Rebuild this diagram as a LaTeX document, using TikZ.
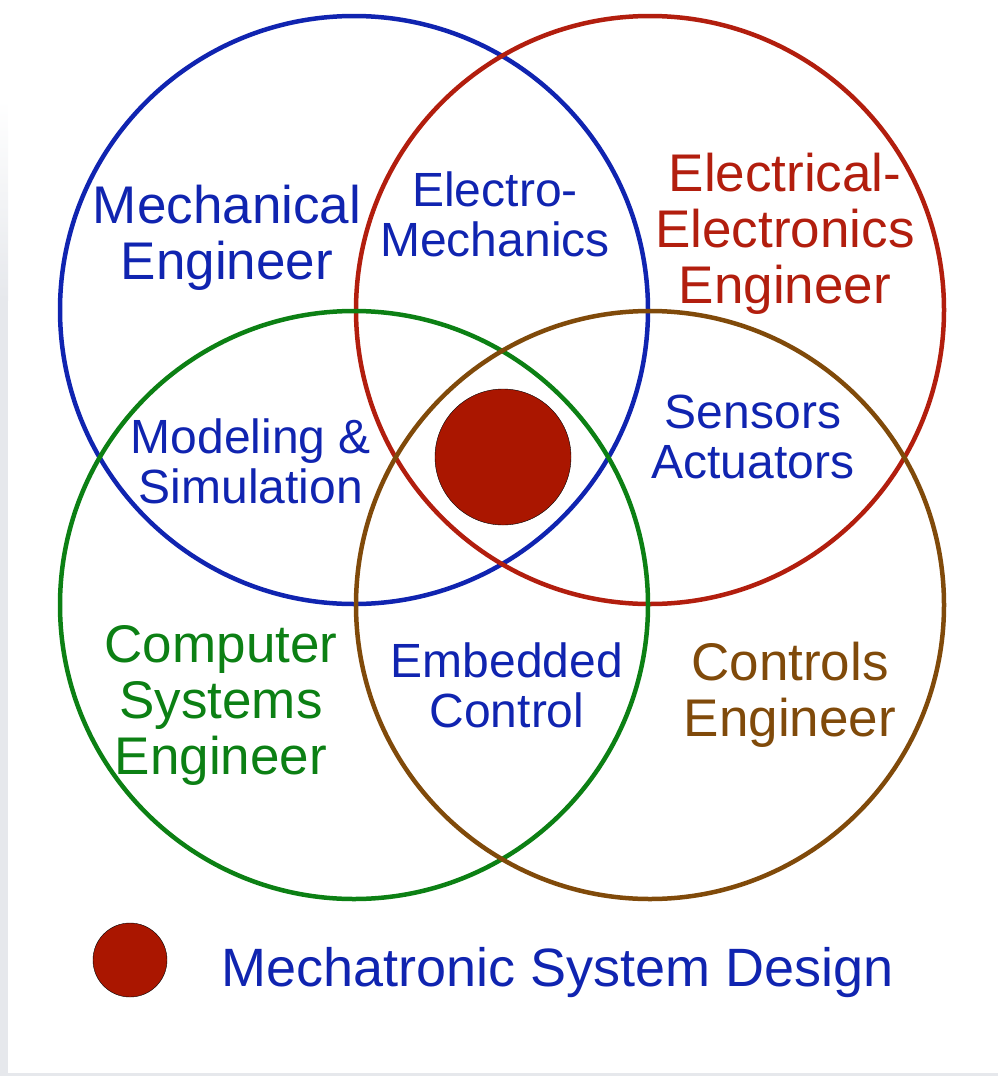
\documentclass[tikz,border=0pt]{standalone}
\usepackage{fontspec}
\setmainfont{Liberation Sans}

\definecolor{mechblue}{RGB}{16,36,176}
\definecolor{elecred}{RGB}{178,30,14}
\definecolor{compgreen}{RGB}{12,128,20}
\definecolor{ctrlbrown}{RGB}{128,74,10}
\definecolor{dotred}{RGB}{170,22,0}
\definecolor{edgegray}{RGB}{230,232,236}

\begin{document}
\begin{tikzpicture}[x=1pt,y=-1pt]
    \tikzstyle{ring} = [circle, draw, line width=4.5pt,
        minimum size=588pt, inner sep=0pt]
    \tikzstyle{field} = [align=center, font=\fontsize{53}{56}\selectfont]
    \tikzstyle{overlap} = [align=center, text=mechblue,
        font=\fontsize{48}{50}\selectfont]
    \tikzstyle{dot} = [circle, draw=black, thin, fill=dotred, inner sep=0pt]

    \useasboundingbox (0,0) rectangle (998,1076);
    % page edge
    \shade [top color=white, bottom color=edgegray] (0,100) rectangle (8,300);
    \fill [edgegray] (0,300) rectangle (8,1076);
    \fill [edgegray] (8,1073) rectangle (998,1076);
    %
    \node [ring, draw=mechblue] (Mech) at (354,310) {};
    \node [ring, draw=elecred, right of=Mech, node distance=296pt] (Elec) {};
    \node [ring, draw=compgreen, below of=Mech, node distance=295pt] (Comp) {};
    \node [ring, draw=ctrlbrown, right of=Comp, node distance=296pt] (Ctrl) {};
    %
    \node [field, text=mechblue] (mechlbl) at (227,238) {Mechanical\\Engineer};
    \node [field, text=elecred] (eleclbl) at (785,234) {Electrical-\\Electronics\\Engineer};
    \node [field, text=compgreen] (complbl) at (221,705) {Computer\\Systems\\Engineer};
    \node [field, text=ctrlbrown] (ctrllbl) at (790,695) {Controls\\Engineer};
    %
    \node [overlap] (emlbl) at (495,214) {Electro-\\Mechanics};
    \node [overlap] (simlbl) at (251,461) {Modeling \&\\Simulation};
    \node [overlap] (senslbl) at (753,437) {Sensors\\Actuators};
    \node [overlap] (emblbl) at (507,685) {Embedded\\Control};
    %
    \node [dot, minimum size=136pt] (core) at (503,457) {};
    \node [dot, minimum size=74pt] (key) at (130,960) {};
    \node [field, text=mechblue, anchor=west, font=\fontsize{54}{56}\selectfont]
        (keylbl) at (218,973) {Mechatronic System Design};
\end{tikzpicture}
\end{document}
